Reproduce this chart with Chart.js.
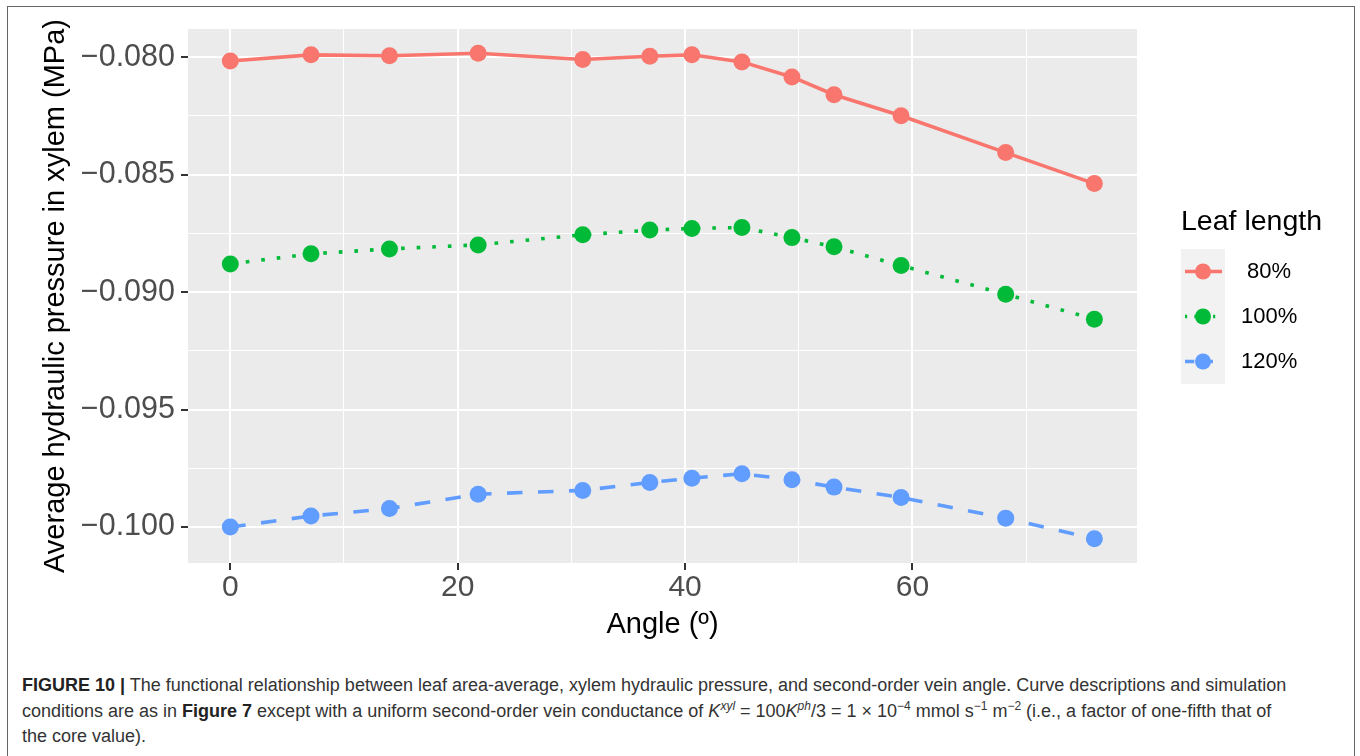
<!DOCTYPE html>
<html>
<head>
<meta charset="utf-8">
<script src="https://cdn.jsdelivr.net/npm/chart.js@4.4.0/dist/chart.umd.min.js"></script>
<style>
  body { margin: 0; background: #fff; }
  #frame { position: absolute; left: 7px; top: 6px; width: 1348px; height: 760px; border: 1px solid #666; box-sizing: border-box; }
  #wrap { position: absolute; left: 0; top: 0; width: 1360px; height: 650px; }
  #caption {
    position: absolute; left: 22px; top: 673px; white-space: nowrap;
    font-family: "Liberation Sans", Arial, Helvetica, sans-serif;
    font-size: 18px; line-height: 25.5px; color: #333;
  }
  #caption b { color: #222; }
  #caption sup { font-size: 12px; line-height: 0; vertical-align: 7px; }
</style>
</head>
<body>
<div id="frame"></div>
<div id="wrap"><canvas id="AngleChart"></canvas></div>
<div id="caption">
  <b>FIGURE 10 |</b> The functional relationship between leaf area-average, xylem hydraulic pressure, and second-order vein angle. Curve descriptions and simulation<br>
  conditions are as in <b>Figure 7</b> except with a uniform second-order vein conductance of <i>K</i><sup><i>xyl</i></sup> = 100<i>K</i><sup><i>ph</i></sup>/3 = 1 × 10<sup>−4</sup> mmol s<sup>−1</sup> m<sup>−2</sup> (i.e., a factor of one-fifth that of<br>
  the core value).
</div>
<script>
// second-order vein angle (degrees)
const angles = [0, 7.1, 14.0, 21.8, 31.0, 36.9, 40.6, 45.0, 49.4, 53.1, 59.0, 68.2, 76.0];

// average hydraulic pressure in xylem (MPa)
const len80 = [-0.08016, -0.0799, -0.07994, -0.07983, -0.0801, -0.07996, -0.0799, -0.0802, -0.08084, -0.0816, -0.08249, -0.08406, -0.08538];
const len100 = [-0.0888, -0.08837, -0.08816, -0.08799, -0.08756, -0.08736, -0.08729, -0.08725, -0.08768, -0.08807, -0.08887, -0.09009, -0.09115];
const len120 = [-0.1000, -0.09953, -0.09921, -0.0986, -0.09844, -0.0981, -0.09792, -0.09773, -0.09799, -0.0983, -0.09874, -0.09962, -0.1005];

const seriesLabels = [' 80%', '100%', '120%'];
const xTicks = [0, 10, 20, 30, 40, 50, 60, 70];
const yTicks = [-0.1, -0.0975, -0.095, -0.0925, -0.09, -0.0875, -0.085, -0.0825, -0.08];

const font = '"Liberation Sans", Arial, Helvetica, sans-serif';
const lw = 3.6;

function pts(ys) {
    return angles.map((a, i) => ({ x: a, y: ys[i] }));
}
const isMajorX = v => v % 20 === 0;
const isMajorY = v => Math.abs(Math.round(v * 200) - v * 200) < 1e-6;

const data = {
    datasets: [
        {
            label: seriesLabels[0],
            data: pts(len80),
            borderColor: '#F8766D',
            backgroundColor: '#F8766D',
        },
        {
            label: seriesLabels[1],
            data: pts(len100),
            borderColor: '#00BA38',
            backgroundColor: '#00BA38',
            borderDash: [lw, 12],
        },
        {
            label: seriesLabels[2],
            data: pts(len120),
            borderColor: '#619CFF',
            backgroundColor: '#619CFF',
            borderDash: [15.5, 15.5],
        }
    ]
};

// grey panel behind the grid
const panelBg = {
    id: 'panelBg',
    beforeDraw(chart) {
        const a = chart.chartArea;
        const ctx = chart.ctx;
        ctx.save();
        ctx.fillStyle = '#EBEBEB';
        ctx.fillRect(a.left, a.top, a.right - a.left, a.bottom - a.top);
        ctx.restore();
    }
};

// ggplot-style legend on the right
const sideLegend = {
    id: 'sideLegend',
    afterDraw(chart) {
        const ctx = chart.ctx;
        const x0 = 1181, top = 249, row = 45;
        ctx.save();
        ctx.fillStyle = '#000';
        ctx.font = '28.5px ' + font;
        ctx.textBaseline = 'middle';
        ctx.textAlign = 'left';
        ctx.fillText('Leaf length', x0, 222);
        ctx.fillStyle = '#F2F2F2';
        ctx.fillRect(x0, top, 44, row * 3);
        chart.data.datasets.forEach((ds, i) => {
            const cy = top + row * i + row / 2;
            ctx.strokeStyle = ds.borderColor;
            ctx.lineWidth = lw;
            ctx.setLineDash(ds.borderDash ? ds.borderDash.map(d => d * 0.6) : []);
            ctx.beginPath();
            ctx.moveTo(x0 + 4, cy);
            ctx.lineTo(x0 + 41, cy);
            ctx.stroke();
            ctx.setLineDash([]);
            ctx.fillStyle = ds.backgroundColor;
            ctx.beginPath();
            ctx.arc(x0 + 22, cy, 8, 0, Math.PI * 2);
            ctx.fill();
            ctx.fillStyle = '#000';
            ctx.font = '22px ' + font;
            ctx.fillText(ds.label, 1241, cy);
        });
        ctx.restore();
    }
};

const config = {
    type: 'line',
    data: data,
    options: {
        responsive: true,
        maintainAspectRatio: false,
        animation: false,
        layout: { padding: { top: 29, right: 223, bottom: 0, left: 0 } },
        elements: {
            line: { borderWidth: lw, tension: 0 },
            point: { radius: 8.5, borderWidth: 0 }
        },
        plugins: {
            legend: { display: false },
            tooltip: { enabled: false }
        },
        scales: {
            x: {
                type: 'linear',
                min: -3.72,
                max: 79.75,
                afterBuildTicks: s => { s.ticks = xTicks.map(v => ({ value: v })); },
                afterFit: s => { s.height = 87; },
                border: { display: false },
                grid: {
                    color: '#fff',
                    lineWidth: c => isMajorX(c.tick.value) ? 2 : 1,
                    tickColor: c => isMajorX(c.tick.value) ? '#333' : 'rgba(0,0,0,0)',
                    tickWidth: 2,
                    tickLength: 7
                },
                ticks: {
                    autoSkip: false,
                    maxRotation: 0,
                    padding: 0,
                    color: '#4D4D4D',
                    font: { family: font, size: 30 },
                    callback: v => isMajorX(v) ? String(v) : ''
                },
                title: {
                    display: true,
                    text: 'Angle (º)',
                    color: '#000',
                    font: { family: font, size: 29 },
                    padding: { top: 0, bottom: 8 }
                }
            },
            y: {
                min: -0.10153,
                max: -0.0788,
                afterBuildTicks: s => { s.ticks = yTicks.map(v => ({ value: v })); },
                afterFit: s => { s.width = 188; },
                border: { display: false },
                grid: {
                    color: '#fff',
                    lineWidth: c => isMajorY(c.tick.value) ? 2 : 1,
                    tickColor: c => isMajorY(c.tick.value) ? '#333' : 'rgba(0,0,0,0)',
                    tickWidth: 2,
                    tickLength: 7
                },
                ticks: {
                    autoSkip: false,
                    padding: 6,
                    color: '#4D4D4D',
                    font: { family: font, size: 30.5 },
                    callback: v => isMajorY(v) ? '\u2212' + Math.abs(v).toFixed(3) : ''
                },
                title: {
                    display: true,
                    text: 'Average hydraulic pressure in xylem (MPa)',
                    color: '#000',
                    font: { family: font, size: 29 },
                    padding: { top: 39, bottom: 0 }
                }
            }
        }
    },
    plugins: [panelBg, sideLegend]
};

const ctx = document.getElementById('AngleChart');
new Chart(ctx, config);
</script>
</body>
</html>
